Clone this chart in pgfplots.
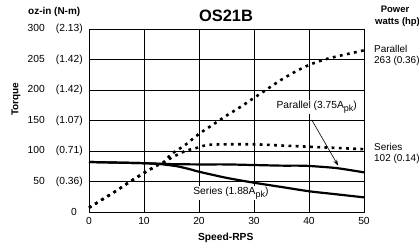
\documentclass[border=0pt]{standalone}
\usepackage{pgfplots}
\pgfplotsset{compat=1.18}
\usepackage{fontspec}
\setmainfont{Liberation Sans}
\usetikzlibrary{arrows.meta}
\newcommand{\yl}[2]{\makebox[16bp][r]{#1}\hspace{10bp}\makebox[28bp][r]{#2}}
\newcommand{\pk}{\raisebox{-2.8bp}{\fontsize{9}{9}\selectfont pk}}
\begin{document}
\begin{tikzpicture}
\begin{axis}[
 at={(0,0)}, anchor=south west,
 scale only axis, width=275bp, height=183bp,
 xmin=0, xmax=50, ymin=0, ymax=300,
 xtick={0,10,20,30,40,50},
 ytick={0,50,100,150,200,250,300},
 yticklabels={{\makebox[54bp][r]{0\hspace{6bp}}},{\yl{50}{(0.36)}},{\yl{100}{(0.71)}},{\yl{150}{(1.07)}},{\yl{200}{(1.42)}},{\yl{205}{(1.42)}},{\yl{300}{(2.13)}}},
 major tick length=0pt,
 grid=major, grid style={black, line width=0.7bp},
 axis line style={line width=0.8bp},
 tick label style={font=\fontsize{10.3}{11}\selectfont},
 /pgf/number format/assume math mode=true,
 yticklabel style={inner sep=0pt, xshift=-6bp, anchor=east},
 xticklabel style={yshift=-2bp},
 clip=false,
]
% Parallel torque (solid)
\addplot[black, line width=2.2bp, smooth, tension=0.4] coordinates {
 (0,82) (5,81) (10,80) (15,78.5) (20,78) (25,78) (30,77) (35,76) (38,76) (40,75.5) (45,72) (50,65)};
% Series torque (solid)
\addplot[black, line width=2.2bp, smooth, tension=0.4] coordinates {
 (0,82) (5,81) (10,80) (13,78.5) (16,75) (18.4,70) (20,66) (25,56) (30,48) (35,41) (40,34) (45,29) (50,24)};
% Parallel power (dotted)
\addplot[black, line width=2.6bp, dash pattern=on 2.8bp off 4.4bp, smooth, tension=0.5] coordinates {
 (0,7) (2.5,21) (5,35) (7.5,50) (10,64) (12.5,77) (13.5,81) (15,95) (17.5,110) (20,128) (22.5,143) (25,158) (27.5,172) (30,187) (32.5,202) (35,217) (37.5,230) (40,241) (42.5,249) (45,255) (50,265)};
% Series power (dotted)
\addplot[black, line width=2.6bp, dash pattern=on 2.8bp off 4.4bp, smooth, tension=0.4] coordinates {
 (0,7) (2.5,21) (5,35) (7.5,50) (10,64) (12.5,77) (13.5,81) (15,89) (17.5,100) (20,106) (21.5,110) (25,111) (30,111) (35,109) (40,107) (45,105) (50,103)};
\draw[-{Stealth[length=6bp,width=4bp]}, line width=0.6bp] (axis cs:40.5,151) -- (axis cs:45.3,76);
\node[fill=white, inner sep=1bp, font=\fontsize{10.3}{11}\selectfont] at (axis cs:41.4,172) {Parallel (3.75A\pk)};
\node[fill=white, inner sep=1bp, font=\fontsize{10.3}{11}\selectfont] at (axis cs:25.8,31) {Series (1.88A\pk)};
\end{axis}
\node[font=\fontsize{16.5}{18}\selectfont\bfseries] at (137bp,196.5bp) {OS21B};
\node[anchor=west, inner sep=0pt, font=\fontsize{10}{11}\selectfont\bfseries] at (-61bp,200bp) {oz-in (N-m)};
\node[rotate=90, inner sep=0pt, font=\fontsize{10}{11}\selectfont\bfseries] at (-73bp,113bp) {Torque};
\node[inner sep=0pt, font=\fontsize{10.3}{11}\selectfont\bfseries] at (136.7bp,-26bp) {Speed-RPS};
\node[inner sep=0pt, font=\fontsize{9.5}{10}\selectfont\bfseries] at (306bp,203bp) {Power};
\node[anchor=west, inner sep=0pt, font=\fontsize{9.5}{10}\selectfont\bfseries] at (286bp,190bp) {watts (hp)};
\node[anchor=west, inner sep=0pt, font=\fontsize{10}{10}\selectfont] at (285bp,163bp) {Parallel};
\node[anchor=west, inner sep=0pt, font=\fontsize{10}{10}\selectfont] at (285bp,151bp) {263 (0.36)};
\node[anchor=west, inner sep=0pt, font=\fontsize{10}{10}\selectfont] at (285bp,65bp) {Series};
\node[anchor=west, inner sep=0pt, font=\fontsize{10}{10}\selectfont] at (285bp,53bp) {102 (0.14)};
\pgfresetboundingbox
\path[use as bounding box] (-89bp,-35bp) rectangle (330bp,212bp);
\end{tikzpicture}
\end{document}
